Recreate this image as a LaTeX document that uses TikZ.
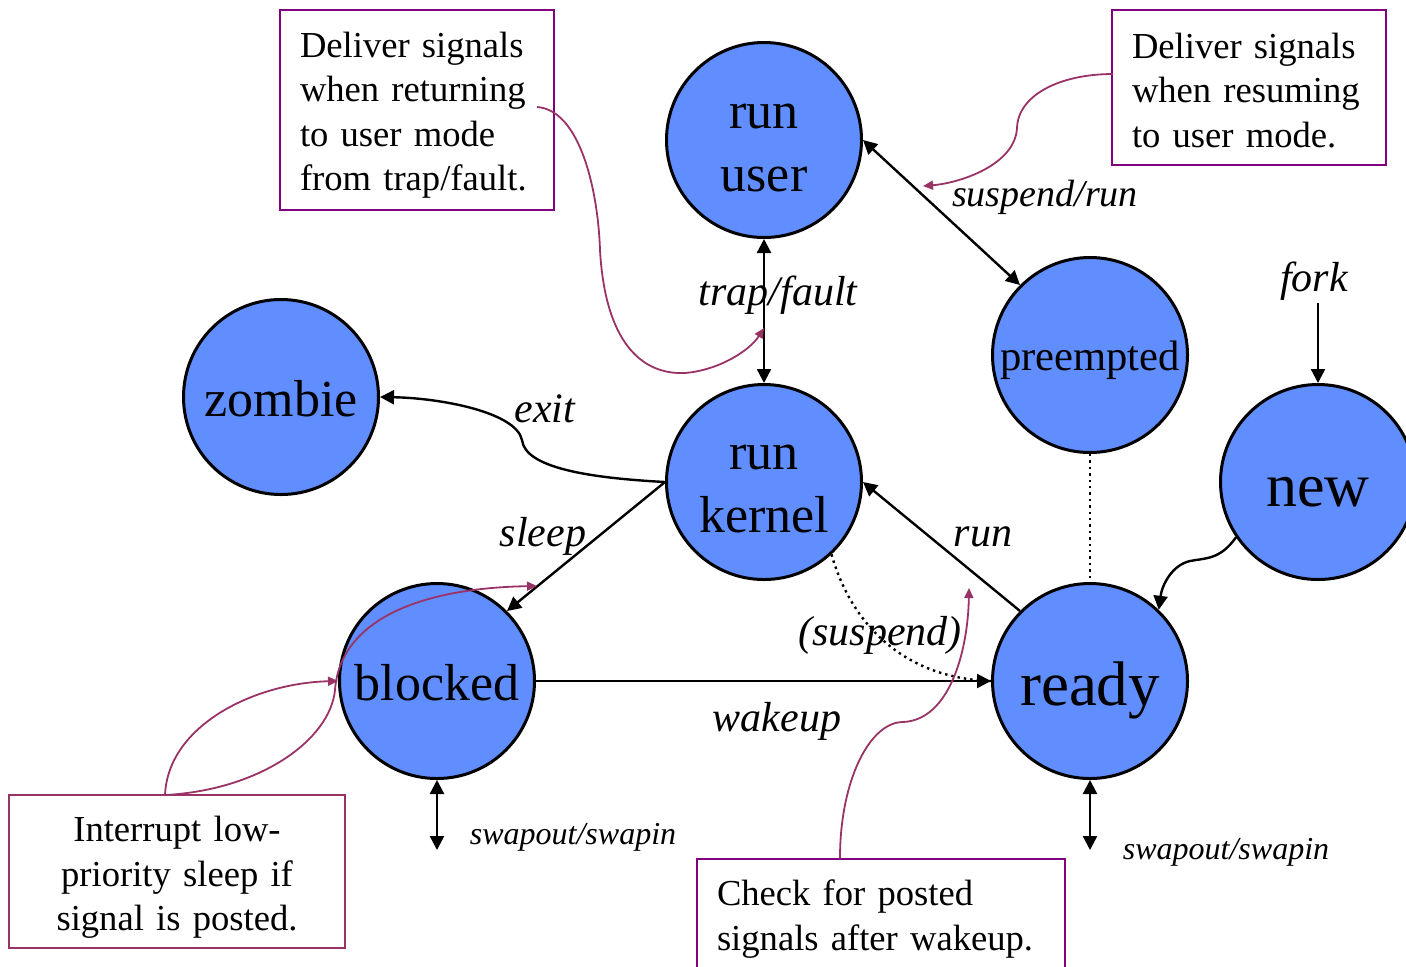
\documentclass[tikz,border=0pt]{standalone}
\usepackage{fontspec}
\setmainfont{Liberation Serif}
\usetikzlibrary{arrows.meta}
\definecolor{nodeblue}{RGB}{96,142,255}
\definecolor{boxpurple}{RGB}{128,0,128}
\definecolor{notecol}{RGB}{153,51,102}
\begin{document}
\begin{tikzpicture}[x=0.5pt,y=-0.5pt,
  state/.style={circle,draw=black,line width=1.5pt,fill=nodeblue,minimum size=97.5pt,inner sep=0pt,align=center,font=\fontsize{26}{31.5}\selectfont},
  lbl/.style={font=\itshape\fontsize{21}{25}\selectfont,inner sep=1pt},
  smalllbl/.style={font=\itshape\fontsize{16}{19}\selectfont,inner sep=1pt},
  arr/.style={-{Triangle[length=7pt,width=7pt]},line width=1.2pt},
  dbl/.style={{Triangle[length=7pt,width=7pt]}-{Triangle[length=7pt,width=7pt]},line width=1.2pt},
  note/.style={draw=boxpurple,line width=1pt,font=\fontsize{18.3}{22.3}\selectfont,inner ysep=0pt},
  pcurve/.style={notecol,line width=0.9pt,-{Triangle[length=5pt,width=4.5pt]}},
]
\useasboundingbox (0,0) rectangle (1406,966);
\clip (0,0) rectangle (1406,966);

% states
\node[state] (ru) at (764,140) {\rule{0pt}{20pt}run\\user};
\node[state] (rk) at (764,482) {\rule{0pt}{19.5pt}run\\kernel};
\node[state,text height=19pt,text depth=0pt] (zombie) at (281,397) {zombie};
\node[state,font=\fontsize{21.3}{25}\selectfont,text height=15pt,text depth=0pt] (pre) at (1090,355) {preempted};
\node[state,font=\fontsize{31}{36}\selectfont,text height=24pt,text depth=0pt] (new) at (1318,482) {new};
\node[state,text height=19pt,text depth=0pt] (blocked) at (437,681) {blocked};
\node[state,font=\fontsize{31.5}{36}\selectfont,text height=24pt,text depth=0pt] (ready) at (1090,681) {ready};

% free ends
\coordinate (bs) at (437,850);
\coordinate (rs) at (1090,850);

% transitions
\draw[dbl] (ru) -- (rk);
\draw[dbl] (ru.east) -- (pre.135);
\draw[arr] (rk.west) .. controls (590,478) and (525,468) .. (522,440) .. controls (516,412) and (440,398) .. (zombie.east);
\draw[arr] (rk.west) -- (blocked.45);
\draw[arr] (ready.135) -- (rk.east);
\draw[arr] (blocked.east) -- (ready.west);
\draw[line width=1.2pt,dotted] (rk.-47) .. controls (850,620) and (900,678) .. (ready.west);
\draw[line width=1.2pt,dotted] (pre.south) -- (ready.north);
\draw[arr] (new.214) .. controls (1220,560) and (1205,558) .. (1190,561) .. controls (1172,565) and (1162,585) .. (ready.46);
\draw[dbl] (blocked.south) -- (bs);
\draw[dbl] (ready.south) -- (rs);

% labels
\node[lbl] (ltf) at (778,295) {trap/fault};
\node[lbl,font=\itshape\fontsize{19}{23}\selectfont] (lsr) at (1045,197) {suspend/run};
\node[lbl] (lexit) at (545,409) {exit};
\node[lbl] (lsleep) at (543,536) {sleep};
\node[lbl] (lrun) at (983,537) {run};
\node[lbl] (lwake) at (777,721) {wakeup};
\node[lbl] (lsusp) at (880,635) {(suspend)};
\node[lbl] (fork) at (1314,281) {fork};
\draw[arr] (fork.south -| new.north) -- (new.north);
\node[smalllbl] (lsw1) at (573,837) {swapout/swapin};
\node[smalllbl] (lsw2) at (1226,852) {swapout/swapin};

% notes
\node[note,minimum width=136pt,minimum height=100pt,text width=117pt,inner xsep=10pt,align=left] (n1) at (417,110)
  {\rule{0pt}{17.8pt}Deliver signals\\when returning\\to user mode\\from trap/fault.};
\node[note,minimum width=136pt,minimum height=77.5pt,text width=117pt,inner xsep=10pt,align=left] (n2) at (1249,87.5)
  {\rule{0pt}{15.5pt}Deliver signals\\when resuming\\to user mode.};
\node[note,draw=notecol,minimum width=168pt,minimum height=76.5pt,text width=150pt,inner xsep=9pt,align=center] (n3) at (177,871.5)
  {\rule{0pt}{18.8pt}Interrupt low-\\priority sleep if\\signal is posted.};
\node[note,minimum width=184pt,minimum height=60pt,text width=164pt,inner xsep=10pt,align=left] (n4) at (881,919)
  {Check for posted\\signals after wakeup.};

% note pointers
\coordinate (n1s) at (537,107);
\coordinate (tf) at (764,328);
\coordinate (n2s) at (1113,74);
\coordinate (srt) at (923,186);
\coordinate (n3s) at (165,795);
\coordinate (slp) at (537,586);
\coordinate (n4s) at (840,858);
\coordinate (rnt) at (969,588);
\draw[pcurve] (n1s) .. controls (580,110) and (598,190) .. (600,250) .. controls (605,340) and (640,375) .. (685,373) .. controls (720,370) and (750,350) .. (tf);
\draw[pcurve] (n2s) .. controls (1060,74) and (1018,95) .. (1017,128) .. controls (1015,165) and (960,183) .. (srt);
\draw[pcurve] (n3s) .. controls (168,725) and (255,683) .. (blocked.west);
\draw[pcurve] (n3s) .. controls (260,790) and (330,740) .. (335,690) .. controls (340,620) and (420,588) .. (slp);
\draw[pcurve] (n4s) .. controls (840,780) and (870,722) .. (903,722) .. controls (950,720) and (968,650) .. (rnt);
\end{tikzpicture}
\end{document}
